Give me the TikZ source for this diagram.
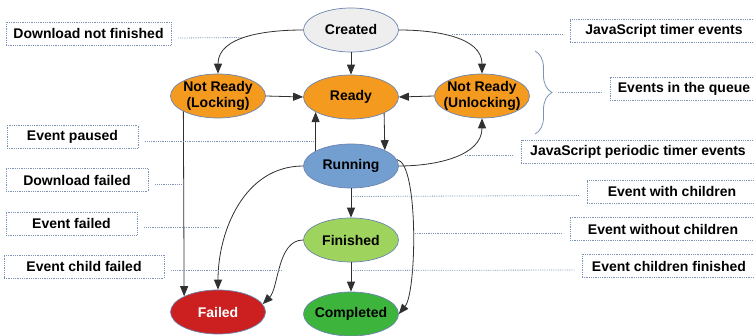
\documentclass[tikz,border=0pt]{standalone}
\usepackage{fontspec}
\setmainfont{Liberation Sans}
\usetikzlibrary{shapes.geometric,arrows.meta,decorations.pathreplacing,calc}
\definecolor{bord}{HTML}{6C84B0}
\definecolor{lead}{HTML}{7D93B5}
\definecolor{cCreated}{HTML}{EEEEEE}
\definecolor{cOrange}{HTML}{F39A1F}
\definecolor{cRunning}{HTML}{729FCF}
\definecolor{cFinished}{HTML}{9ED35E}
\definecolor{cCompleted}{HTML}{3DB53D}
\definecolor{cFailed}{HTML}{CC1F1F}
\definecolor{edge}{HTML}{303030}
\tikzset{
  state/.style={ellipse, draw=bord, line width=0.7pt, minimum width=95pt, minimum height=44pt,
    inner xsep=-14pt, inner ysep=-8pt, align=center, font=\fontsize{14}{16}\selectfont\bfseries},
  tr/.style={draw=edge, line width=0.8pt, -{Triangle[length=10pt,width=8pt]}},
  lbox/.style={draw=lead, densely dotted, line width=0.8pt, inner sep=0pt, minimum height=23pt,
    font=\fontsize{14}{16}\selectfont\bfseries},
  leader/.style={draw=lead, densely dotted, line width=0.8pt},
}
\begin{document}
\begin{tikzpicture}[x=1pt,y=-1pt]
\clip (0,0) rectangle (754,336);
\useasboundingbox (0,0) rectangle (754,336);
% states
\node[state, fill=cCreated] (created) at (351,30) {Created};
\node[state, fill=cOrange] (locking) at (218,96) {Not Ready\\(Locking)};
\node[state, fill=cOrange] (ready) at (351,97) {Ready};
\node[state, fill=cOrange] (unlocking) at (482,96) {Not Ready\\(Unlocking)};
\node[state, fill=cRunning] (running) at (351,166) {Running};
\node[state, fill=cFinished] (finished) at (351,240) {Finished};
\node[state, fill=cFailed, text=white] (failed) at (218,312) {Failed};
\node[state, fill=cCompleted] (completed) at (351,314) {Completed};
% transitions
\draw[tr] (created.west) to[out=180,in=90] (locking.north);
\draw[tr] (created.south) -- (ready.north);
\draw[tr] (created.east) to[out=0,in=90] (unlocking.north);
\draw[tr] (locking.east) -- (ready.west);
\draw[tr] (unlocking.west) -- (ready.east);
\draw[tr] (ready.334.4) -- (running.25.6);
\draw[tr] (running.157) -- (ready.203);
\draw[tr] (running.east) to[out=0,in=270] (unlocking.south);
\draw[tr] (running.west) to[out=180,in=90] (failed.north);
\draw[tr] (running.8) .. controls +(22,3) and +(18,-22) .. (completed.east);
\draw[tr] (running.south) -- (finished.north);
\draw[tr] (locking.204.4) -- (failed.155.6);
\draw[tr] (finished.west) .. controls +(-26,0) and +(16,-16) .. (failed.10);
\draw[tr] (finished.south) -- (completed.north);
% brace
\draw[draw=lead, line width=0.8pt, decorate, decoration={brace, amplitude=17pt}] (535,51) -- (535,134);
\coordinate (bracetip) at (553,92.5);
% label boxes (left)
\node[lbox, minimum width=165pt] (dnf) at (88.5,34) {Download not finished};
\node[lbox, minimum width=131pt] (ep) at (72.5,137) {Event paused};
\node[lbox, minimum width=142pt] (df) at (77,180) {Download failed};
\node[lbox, minimum width=131pt] (ef) at (71.5,223.5) {Event failed};
\node[lbox, minimum width=160pt] (ecf) at (84,266.5) {Event child failed};
% label boxes (right)
\node[lbox, minimum width=188pt] (jst) at (664,30.5) {JavaScript timer events};
\node[lbox, minimum width=148pt] (eq) at (684,88.5) {Events in the queue};
\node[lbox, minimum width=234pt] (jspt) at (638,151.5) {JavaScript periodic timer events};
\node[lbox, minimum width=170pt] (ewc) at (672,191.5) {Event with children};
\node[lbox, minimum width=186pt] (ewoc) at (663,229) {Event without children};
\node[lbox, minimum width=174pt] (ecfin) at (669,266) {Event children finished};
% leader end points
\coordinate (p-dnf) at (243,37.5);
\coordinate (p-ep) at (313,141);
\coordinate (p-df) at (182,184);
\coordinate (p-ef) at (220,227.5);
\coordinate (p-ecf) at (282,270.5);
\coordinate (p-jst) at (452,34.5);
\coordinate (p-jspt) at (465,155.5);
\coordinate (p-ewc) at (353,196.5);
\coordinate (p-ewoc) at (415,233);
\coordinate (p-ecfin) at (353,270.5);
% leaders
\draw[leader] ([shift={(7,4)}]dnf.east) -- (p-dnf);
\draw[leader] ([shift={(7,4)}]ep.east) -- (p-ep);
\draw[leader] ([shift={(7,4)}]df.east) -- (p-df);
\draw[leader] ([shift={(7,4)}]ef.east) -- (p-ef);
\draw[leader] ([shift={(7,4)}]ecf.east) -- (p-ecf);
\draw[leader] (p-jst) -- ([shift={(-7,4)}]jst.west);
\draw[leader] ([shift={(5,0)}]bracetip) -- ([shift={(-7,4)}]eq.west);
\draw[leader] (p-jspt) -- ([shift={(-7,4)}]jspt.west);
\draw[leader] (p-ewc) -- ([shift={(-7,4)}]ewc.west);
\draw[leader] (p-ewoc) -- ([shift={(-7,4)}]ewoc.west);
\draw[leader] (p-ecfin) -- ([shift={(-7,4)}]ecfin.west);
\end{tikzpicture}
\end{document}
